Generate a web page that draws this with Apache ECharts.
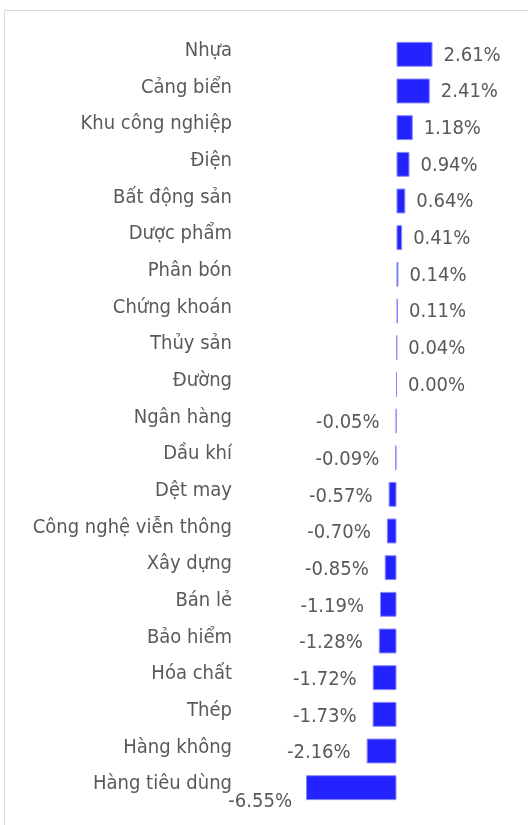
<!DOCTYPE html>
<html><head><meta charset="utf-8">
<script src="https://cdn.jsdelivr.net/npm/echarts@6/dist/echarts.min.js"></script>
<style>html,body{margin:0;padding:0;background:#fff}#c{width:528px;height:825px}</style>
</head><body><div id="c"></div>
<script>
const categories = ["Nhựa","Cảng biển","Khu công nghiệp","Điện","Bất động sản","Dược phẩm","Phân bón","Chứng khoán","Thủy sản","Đường","Ngân hàng","Dầu khí","Dệt may","Công nghệ viễn thông","Xây dựng","Bán lẻ","Bảo hiểm","Hóa chất","Thép","Hàng không","Hàng tiêu dùng"];
const values = [2.61,2.41,1.18,0.94,0.64,0.41,0.14,0.11,0.04,0.00,-0.05,-0.09,-0.57,-0.70,-0.85,-1.19,-1.28,-1.72,-1.73,-2.16,-6.55];

const FONT = "'DejaVu Sans Condensed', 'Noto Sans', sans-serif";
const chart = echarts.init(document.getElementById('c'), null, {renderer:'canvas'});
const data = values.map((v, i) => {
  const item = { value: v };
  if (v < 0) {
    item.label = { position: 'left', distance: 16, offset: [0, 2] };
    if (i === values.length - 1) item.label = { position: 'left', distance: 14, offset: [0, 14] };
  } else {
    item.label = { offset: [0, 1] };
  }
  return item;
});
chart.setOption({
  animation: false,
  graphic: [{ type: 'rect', shape: { x: 4.5, y: 10.5, width: 700, height: 900 },
    style: { fill: 'none', stroke: '#d9d9d9', lineWidth: 1 }, silent: true }],
  grid: { left: 306, top: 36, width: 201, height: 770, containLabel: false },
  xAxis: { type: 'value', min: -6.55, max: 8, show: false },
  yAxis: { type: 'category', inverse: true, data: categories,
    axisLine: { show: false }, axisTick: { show: false }, splitLine: { show: false },
    axisLabel: { margin: 74, color: '#595959', fontFamily: FONT, fontSize: 20, verticalAlign: 'bottom', lineHeight: 7 } },
  series: [{ type: 'bar', data: data, barCategoryGap: '32%',
    itemStyle: { color: '#2323ff', borderColor: '#8a8aff', borderWidth: 1 },
    label: { show: true, position: 'right', distance: 11, color: '#595959', fontFamily: FONT, fontSize: 20,
      formatter: p => p.value.toFixed(2) + '%' } }]
});
</script></body></html>
